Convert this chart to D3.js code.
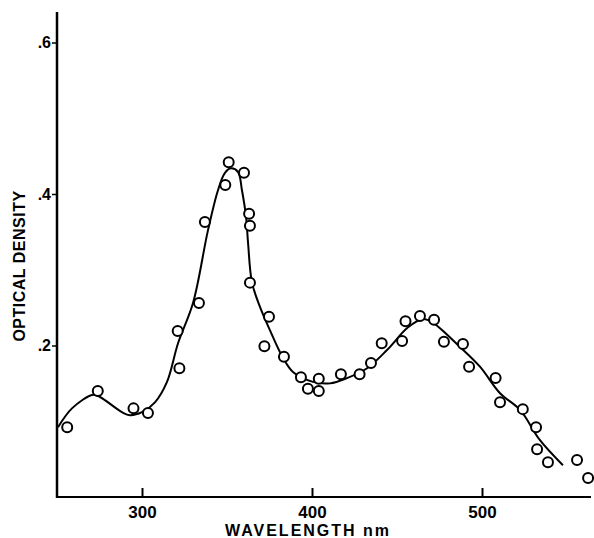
<!DOCTYPE html>
<html>
<head>
<meta charset="utf-8">
<script src="https://cdn.jsdelivr.net/npm/d3@7"></script>
<style>
  body { margin: 0; background: #fff; }
  text { font-family: "Liberation Sans", Arial, sans-serif; font-weight: bold; fill: #000; }
</style>
</head>
<body>
<div id="chart"></div>
<script>
// Measured points (wavelength nm, optical density)
const pointWavelength = [256, 274, 295, 303.5, 322, 321, 333.5, 337, 349, 351, 360, 363, 363.5, 363.5,
  374.7, 372, 383.5, 393.5, 397.6, 404, 404, 417, 428, 434.7, 441, 453, 455, 463.5, 471.8, 477.6,
  488.8, 492.4, 508, 510.6, 524, 531.8, 532.4, 538.8, 555.9, 562.4];
const pointDensity = [0.092, 0.140, 0.117, 0.111, 0.170, 0.219, 0.256, 0.363, 0.412, 0.442, 0.428, 0.374, 0.358, 0.283,
  0.238, 0.199, 0.185, 0.158, 0.143, 0.156, 0.140, 0.162, 0.162, 0.177, 0.203, 0.206, 0.232, 0.239, 0.234, 0.205,
  0.202, 0.172, 0.157, 0.125, 0.116, 0.092, 0.063, 0.046, 0.049, 0.025];

// Fitted curve drawn through the points
const curveWavelength = [250.6, 258.8, 271.2, 275.3, 288.2, 292.9, 300, 307.6, 314.7, 321.2, 330, 338.8, 344.7,
  348.8, 352.4, 356.5, 358.8, 361.2, 362.4, 364.7, 369.4, 375.3, 382.4, 388.8, 400.6, 410.6, 420.6, 432.4,
  444.1, 456.5, 465.3, 471.2, 487.1, 498.8, 510.6, 522.4, 534.1, 547.6];
const curveDensity = [0.092, 0.117, 0.135, 0.132, 0.112, 0.108, 0.112, 0.125, 0.152, 0.203, 0.256, 0.352, 0.405,
  0.428, 0.434, 0.429, 0.405, 0.370, 0.335, 0.283, 0.251, 0.220, 0.186, 0.165, 0.152, 0.150, 0.157, 0.170,
  0.194, 0.224, 0.235, 0.230, 0.198, 0.172, 0.137, 0.115, 0.075, 0.042];

const xTicks = [300, 400, 500];
const yTicks = [0.2, 0.4, 0.6];

const width = 594, height = 538;

const svg = d3.select("#chart")
  .append("svg")
  .attr("width", width)
  .attr("height", height);

// Scales
const x = d3.scaleLinear().domain([250, 500]).range([57, 482]);
const y = d3.scaleLinear().domain([0, 0.6]).range([497, 42.5]);

// y axis
const yAxis = svg.append("g")
  .attr("transform", `translate(${x(250)},0)`)
  .call(d3.axisLeft(y).tickValues(yTicks).tickSize(5).tickPadding(1)
    .tickFormat(d => "." + Math.round(d * 10)));
yAxis.select(".domain").remove();
yAxis.selectAll("line").attr("stroke", "#000").attr("stroke-width", 1.5);
yAxis.selectAll("text").attr("font-size", 16).attr("font-family", null);
svg.append("line")
  .attr("x1", x(250)).attr("x2", x(250))
  .attr("y1", 12).attr("y2", y(0) + 1)
  .attr("stroke", "#000").attr("stroke-width", 2.5);

// x axis
const xAxis = svg.append("g")
  .attr("transform", `translate(0,${y(0)})`)
  .call(d3.axisBottom(x).tickValues(xTicks).tickSize(-9).tickPadding(9));
xAxis.select(".domain").remove();
xAxis.selectAll("line").attr("stroke", "#000").attr("stroke-width", 2);
xAxis.selectAll("text").attr("font-size", 17).attr("font-family", null);
svg.append("line")
  .attr("x1", x(250) - 1).attr("x2", 591)
  .attr("y1", y(0)).attr("y2", y(0))
  .attr("stroke", "#000").attr("stroke-width", 2);

// axis labels
svg.append("text")
  .attr("x", 308)
  .attr("y", 536)
  .attr("text-anchor", "middle")
  .attr("font-size", 16)
  .attr("letter-spacing", "2px")
  .text("WAVELENGTH nm");

svg.append("text")
  .attr("transform", "rotate(-90)")
  .attr("x", -266)
  .attr("y", 25)
  .attr("text-anchor", "middle")
  .attr("font-size", 16)
  .attr("letter-spacing", "0.5px")
  .text("OPTICAL DENSITY");

// fitted curve
const curveData = curveWavelength.map((w, i) => [w, curveDensity[i]]);
svg.append("path")
  .datum(curveData)
  .attr("fill", "none")
  .attr("stroke", "#000")
  .attr("stroke-width", 2)
  .attr("d", d3.line().x(d => x(d[0])).y(d => y(d[1])).curve(d3.curveCatmullRom));

// measured points
const pointData = pointWavelength.map((w, i) => [w, pointDensity[i]]);
svg.selectAll("circle")
  .data(pointData)
  .enter()
  .append("circle")
  .attr("cx", d => x(d[0]))
  .attr("cy", d => y(d[1]))
  .attr("r", 5)
  .attr("fill", "#fff")
  .attr("stroke", "#000")
  .attr("stroke-width", 2);
</script>
</body>
</html>
